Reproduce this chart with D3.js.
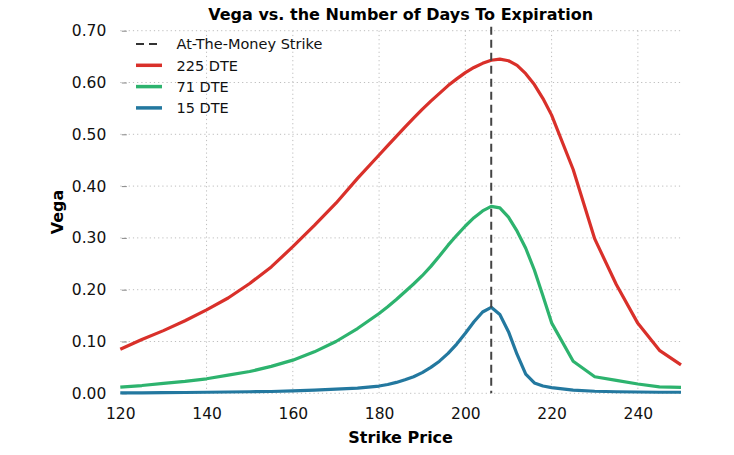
<!DOCTYPE html>
<html>
<head>
<meta charset="utf-8">
<script src="https://cdnjs.cloudflare.com/ajax/libs/d3/7.8.5/d3.min.js"></script>
<style>
  html, body { margin: 0; padding: 0; background: #fff; }
  svg { display: block; font-family: "DejaVu Sans", sans-serif; }
</style>
</head>
<body>
<svg id="chart" width="734" height="455"></svg>
<script>
// ---- data ----
const strikes = [120,125,130,135,140,145,150,155,160,165,170,175,180,182,184,186,188,190,192,194,196,198,200,202,204,206,208,210,212,214,216,218,220,225,230,235,240,245,250];
const vega225 = [0.085,0.104,0.121,0.140,0.161,0.184,0.212,0.244,0.283,0.324,0.367,0.415,0.460,0.478,0.496,0.514,0.531,0.548,0.564,0.579,0.594,0.607,0.619,0.629,0.637,0.643,0.645,0.642,0.633,0.617,0.596,0.569,0.537,0.432,0.298,0.210,0.135,0.083,0.055];
const vega71  = [0.012,0.015,0.019,0.023,0.028,0.035,0.042,0.052,0.064,0.080,0.100,0.125,0.154,0.167,0.181,0.196,0.211,0.227,0.245,0.265,0.286,0.305,0.323,0.339,0.352,0.361,0.358,0.340,0.313,0.280,0.238,0.188,0.136,0.062,0.032,0.025,0.018,0.0125,0.0115];
const vega15  = [0.001,0.001,0.0012,0.0015,0.002,0.0025,0.003,0.0035,0.0045,0.006,0.008,0.010,0.014,0.017,0.021,0.026,0.032,0.040,0.050,0.062,0.077,0.095,0.116,0.138,0.157,0.166,0.152,0.119,0.075,0.037,0.020,0.014,0.011,0.006,0.004,0.003,0.0025,0.002,0.002];
const seriesNames = ["225 DTE", "71 DTE", "15 DTE"];
const seriesColors = ["#d9302a", "#2db36e", "#23789f"];
const atmStrike = 206;
const atmLabel = "At-The-Money Strike";
const xTicks = [120,140,160,180,200,220,240];
const yTicks = [0,0.1,0.2,0.3,0.4,0.5,0.6,0.7];
const title = "Vega vs. the Number of Days To Expiration";
const xLabel = "Strike Price";
const yLabel = "Vega";

// ---- layout ----
const svg = d3.select("#chart");
const pLeft = 120.3, pRight = 681, pTop = 30.7, pBottom = 393.3;
const x = d3.scaleLinear().domain([120, 250]).range([pLeft, pRight]);
const y = d3.scaleLinear().domain([0, 0.7]).range([pBottom, pTop]);

// grid
const grid = svg.append("g");
grid.selectAll("line.h").data(yTicks).enter().append("line")
  .attr("x1", pLeft).attr("x2", pRight)
  .attr("y1", d => y(d)).attr("y2", d => y(d))
  .attr("stroke", "#bdbdbd").attr("stroke-width", 1).attr("stroke-dasharray", "1.2,3");
grid.selectAll("line.v").data(xTicks.filter(d => d > 120)).enter().append("line")
  .attr("y1", pTop).attr("y2", pBottom)
  .attr("x1", d => x(d)).attr("x2", d => x(d))
  .attr("stroke", "#bdbdbd").attr("stroke-width", 1).attr("stroke-dasharray", "1.2,3");

// y axis
const yAxis = d3.axisLeft(y).tickValues(yTicks).tickFormat(d3.format(".2f")).tickSize(-5).tickPadding(14);
const ya = svg.append("g").attr("transform", `translate(${pLeft},0)`).call(yAxis);
ya.select(".domain").remove();
ya.selectAll(".tick line").attr("stroke", "#888").attr("transform", "translate(1.5,0)");
ya.selectAll("text").attr("font-size", "15.5px").attr("fill", "#111")
  .attr("font-family", "DejaVu Sans, sans-serif");

// x axis
const xAxis = d3.axisBottom(x).tickValues(xTicks).tickSize(0).tickPadding(15);
const xa = svg.append("g").attr("transform", `translate(0,${pBottom})`).call(xAxis);
xa.select(".domain").remove();
xa.selectAll("text").attr("font-size", "15.5px").attr("fill", "#111")
  .attr("font-family", "DejaVu Sans, sans-serif");

// lines
const allSeries = [vega225, vega71, vega15];
const line = d3.line().x(d => x(d[0])).y(d => y(d[1]));
allSeries.forEach((vals, i) => {
  svg.append("path")
    .datum(strikes.map((s, j) => [s, vals[j]]))
    .attr("d", line)
    .attr("fill", "none")
    .attr("stroke", seriesColors[i])
    .attr("stroke-width", 3.2)
    .attr("stroke-linejoin", "round")
    .attr("stroke-linecap", "butt");
});

// ATM line
svg.append("line")
  .attr("x1", x(atmStrike)).attr("x2", x(atmStrike))
  .attr("y1", pTop - 4).attr("y2", pBottom)
  .attr("stroke", "#444").attr("stroke-width", 2).attr("stroke-dasharray", "8,5");

// title and labels
svg.append("text").attr("x", (pLeft + pRight) / 2).attr("y", 19.5)
  .attr("text-anchor", "middle").attr("font-weight", "bold").attr("font-size", "16px")
  .attr("fill", "#000").text(title);
svg.append("text").attr("x", (pLeft + pRight) / 2).attr("y", 443)
  .attr("text-anchor", "middle").attr("font-weight", "bold").attr("font-size", "16px")
  .attr("fill", "#000").text(xLabel);
svg.append("text").attr("transform", `translate(63,${(pTop + pBottom) / 2}) rotate(-90)`)
  .attr("text-anchor", "middle").attr("font-weight", "bold").attr("font-size", "16px")
  .attr("fill", "#000").text(yLabel);

// legend
const legendItems = [{label: atmLabel, color: "#333", dash: "8,5", w: 2}]
  .concat(seriesNames.map((n, i) => ({label: n, color: seriesColors[i], dash: null, w: 3.5})));
const lg = svg.append("g");
legendItems.forEach((it, i) => {
  const ly = 44 + i * 21.3;
  lg.append("line").attr("x1", 136).attr("x2", 162).attr("y1", ly).attr("y2", ly)
    .attr("stroke", it.color).attr("stroke-width", it.w)
    .attr("stroke-dasharray", it.dash);
  lg.append("text").attr("x", 176.5).attr("y", ly + 5.3).attr("font-size", "14.5px")
    .attr("fill", "#111").text(it.label);
});
</script>
</body>
</html>
